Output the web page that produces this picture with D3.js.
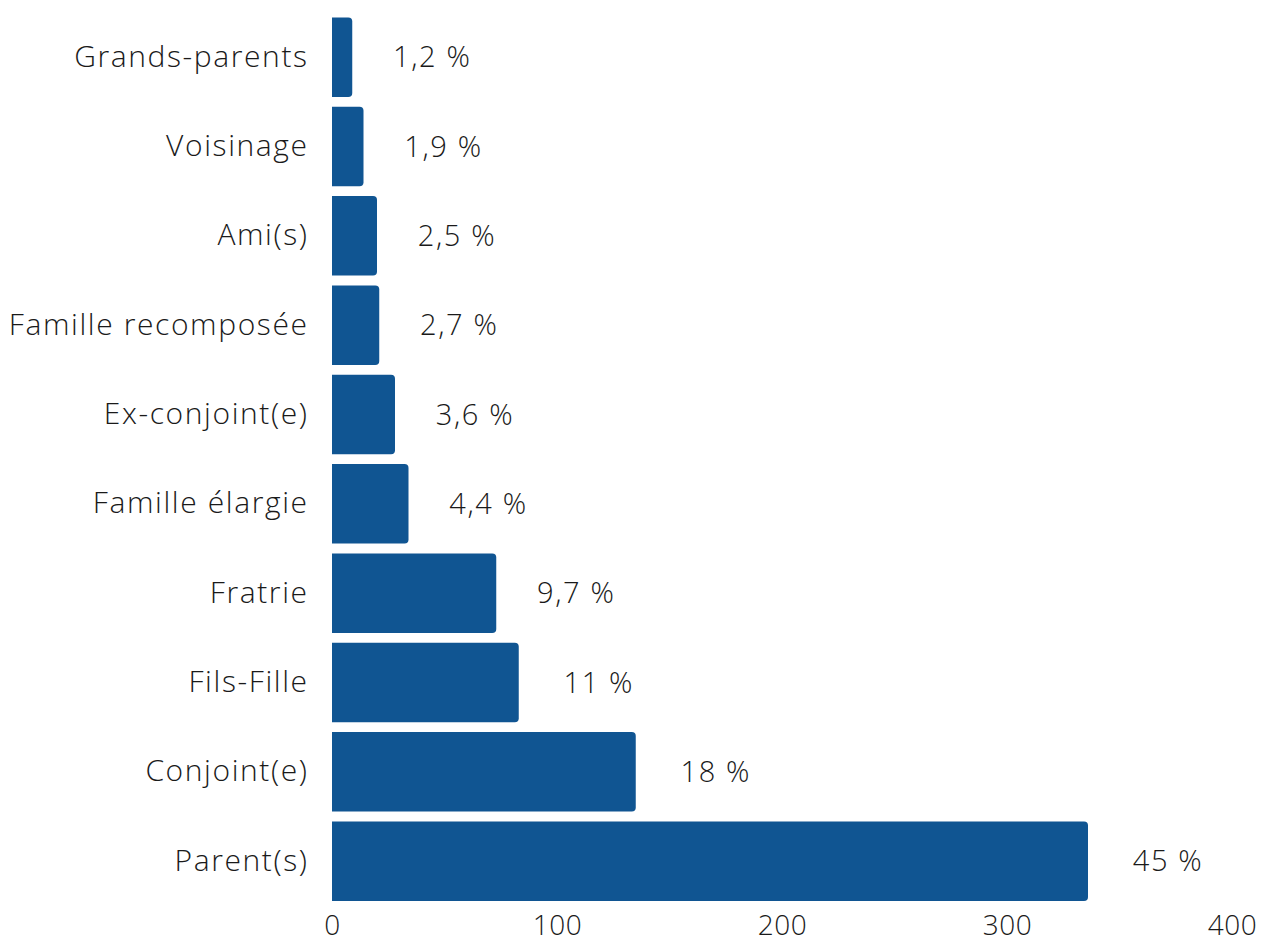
<!DOCTYPE html>
<html>
<head>
<meta charset="utf-8">
<script src="https://cdn.jsdelivr.net/npm/d3@7"></script>
<style>
  body { margin: 0; background: #fff; }
  svg text { font-family: "Open Sans", sans-serif; font-weight: 300; fill: #1a1a1a; }
</style>
</head>
<body>
<svg width="1267" height="944"></svg>
<script>
const categories = ["Parent(s)", "Conjoint(e)", "Fils-Fille", "Fratrie", "Famille élargie",
                    "Ex-conjoint(e)", "Famille recomposée", "Ami(s)", "Voisinage", "Grands-parents"];
const counts = [336, 135, 83, 73, 34, 28, 21, 20, 14, 9];
const pctLabels = ["45 %", "18 %", "11 %", "9,7 %", "4,4 %", "3,6 %", "2,7 %", "2,5 %", "1,9 %", "1,2 %"];
const xTicks = [0, 100, 200, 300, 400];

const rows = categories.map((c, i) => ({cat: c, n: counts[i], lab: pctLabels[i]}));

const svg = d3.select("svg");

const x = d3.scaleLinear().domain([0, 400]).range([332, 1232]);
const y = d3.scaleBand()
  .domain(categories.slice().reverse())
  .range([12.5, 905.8])
  .paddingInner(0.11)
  .paddingOuter(0.055);

// bar with rounded right end only
const barPath = d => {
  const x0 = x(0), x1 = x(d.n), y0 = y(d.cat), h = y.bandwidth(), r = 4;
  return `M${x0},${y0}H${x1 - r}Q${x1},${y0} ${x1},${y0 + r}V${y0 + h - r}` +
         `Q${x1},${y0 + h} ${x1 - r},${y0 + h}H${x0}Z`;
};

svg.append("g")
  .selectAll("path")
  .data(rows)
  .enter()
  .append("path")
    .attr("d", barPath)
    .attr("fill", "#105592");

svg.append("g")
  .selectAll("text")
  .data(rows)
  .enter()
  .append("text")
    .attr("x", d => x(d.n) + 80)
    .attr("y", d => y(d.cat) + y.bandwidth() / 2)
    .attr("dy", "0.35em")
    .attr("text-anchor", "middle")
    .style("font-size", "29px")
    .style("letter-spacing", "1.6px")
    .text(d => d.lab);

// category labels
const yAxis = svg.append("g")
  .attr("transform", "translate(332,0)")
  .call(d3.axisLeft(y).tickSize(0).tickPadding(25));
yAxis.select(".domain").remove();
yAxis.selectAll("text")
  .style("font-size", "30px")
  .style("letter-spacing", "1.6px")
  .attr("dx", "1.6px");

// x axis, labels only
const xAxis = svg.append("g")
  .attr("transform", "translate(0,903)")
  .call(d3.axisBottom(x).tickValues(xTicks).tickSize(0).tickPadding(12));
xAxis.select(".domain").remove();
xAxis.selectAll("text")
  .style("font-size", "28px")
  .style("letter-spacing", "0.5px");
</script>
</body>
</html>
